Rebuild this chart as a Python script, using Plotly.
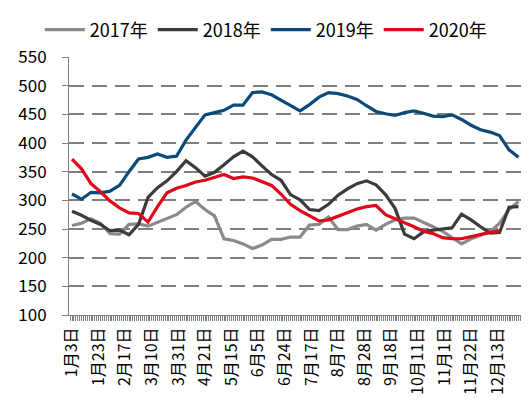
import plotly.graph_objects as go

# 交易日序号（每5个交易日取一个点）
days = list(range(0, 236, 5))

y2017 = [256, 260, 268, 260, 242, 241, 258, 259, 255, 262, 269, 275, 288, 298, 284, 273,
         233, 230, 224, 216, 222, 232, 232, 236, 236, 257, 258, 271, 249, 249, 255, 258,
         248, 258, 266, 269, 269, 262, 254, 246, 235, 224, 233, 239, 245, 260, 284, 298]
y2018 = [281, 274, 265, 258, 247, 248, 240, 258, 305, 322, 334, 350, 369, 357, 342, 349,
         362, 376, 386, 376, 360, 345, 335, 310, 301, 284, 282, 293, 309, 320, 329, 334,
         327, 310, 286, 241, 233, 245, 248, 250, 252, 276, 266, 254, 243, 244, 288, 289]
y2019 = [311, 302, 314, 313, 316, 326, 350, 372, 375, 381, 375, 377, 405, 428, 449, 453,
         457, 466, 466, 488, 489, 484, 475, 465, 456, 467, 480, 488, 486, 482, 476, 465,
         455, 451, 448, 453, 456, 452, 447, 446, 449, 441, 431, 423, 419, 413, 388, 375]
y2020 = [372, 355, 329, 315, 299, 287, 278, 277, 262, 289, 313, 321, 326, 332, 335, 340,
         345, 338, 341, 339, 333, 326, 311, 293, 282, 273, 264, 266, 272, 279, 285, 289,
         291, 275, 268, 262, 254, 246, 242, 235, 233, 233, 237, 241, 244, 247]

tick_pos = list(range(0, 225, 14))
tick_text = ["1月3日", "1月23日", "2月17日", "3月10日", "3月31日", "4月21日", "5月15日",
             "6月5日", "6月24日", "7月17日", "8月7日", "8月28日", "9月18日", "10月11日",
             "11月1日", "11月22日", "12月13日"]

series = [("2017年", y2017, "#8a8a8a"),
          ("2018年", y2018, "#3b3b3b"),
          ("2019年", y2019, "#0b4a78"),
          ("2020年", y2020, "#e0071b")]

FONT = "Noto Sans CJK SC"

fig = go.Figure()
for name, vals, color in series:
    fig.add_trace(go.Scatter(
        x=days[:len(vals)], y=vals, name=name, mode="lines",
        line=dict(color=color, width=3.2)
    ))

# 页面 body 默认有 8px 边距，所以图本身小 8px
fig.update_layout(
    width=524, height=406,
    margin=dict(l=61, r=11, t=49, b=99),
    paper_bgcolor="white", plot_bgcolor="white",
    font=dict(family=FONT, color="black"),
    showlegend=True,
    legend=dict(orientation="h", xref="container", yref="container",
                x=0.492, xanchor="center", y=0.946, yanchor="middle",
                font=dict(size=18, family=FONT), itemwidth=40,
                traceorder="normal"),
)

fig.update_xaxes(
    range=[-1.58, 236.3], automargin=False,
    tickmode="array", tickvals=tick_pos, ticktext=tick_text,
    tickangle=-90, tickfont=dict(size=16, family=FONT),
    ticks="outside", ticklen=5, tickcolor="#808080",
    minor=dict(tickmode="linear", tick0=0, dtick=1, ticks="outside",
               ticklen=5, tickcolor="#808080", showgrid=False),
    showline=True, linecolor="#808080", linewidth=1,
    showgrid=False, zeroline=False,
)

fig.update_yaxes(
    range=[100, 550], dtick=50, tick0=100, automargin=False,
    tickfont=dict(size=17, family=FONT),
    ticks="outside", ticklen=6, tickcolor="#808080",
    ticklabelstandoff=12,
    showline=True, linecolor="#808080", linewidth=1,
    showgrid=True, gridcolor="#7f7f7f", gridwidth=2, griddash="15px,8px",
    zeroline=False,
)

fig.write_html("out.html")
